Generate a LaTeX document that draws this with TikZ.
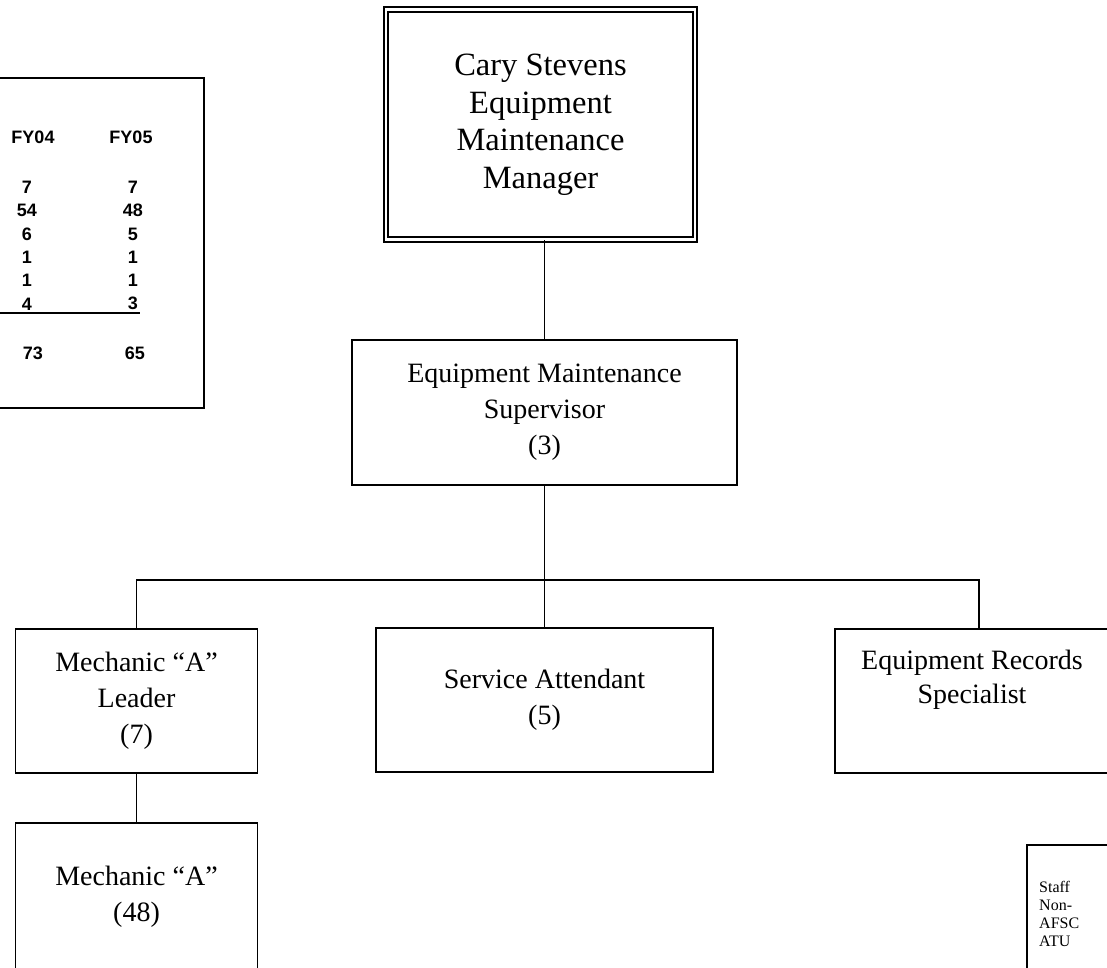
\documentclass[tikz,border=0pt]{standalone}
\usepackage{fontspec}
\setmainfont{Liberation Serif}
\setsansfont{Liberation Sans}

\tikzset{
  post/.style={draw,line width=1.8pt,inner sep=0pt,align=center,font=\fontsize{28}{36}\selectfont},
  link/.style={line width=1.8pt},
  tally/.style={inner sep=0pt,font=\sffamily\bfseries\fontsize{18}{20}\selectfont},
}

\begin{document}
\begin{tikzpicture}[x=1pt,y=-1pt]
\path[use as bounding box] (0,0) rectangle (1107,967);
\clip (0,0) rectangle (1107,967);
% staffing table, cut at the left edge
\node[draw,line width=1.8pt,minimum width=214pt,minimum height=330pt,inner sep=0pt] (counts) at (97,243) {};
\node[tally] (fy04) at (33,137) {FY04};
\node[tally] (fy05) at (131,137) {FY05};
\foreach \a/\b [count=\i] in {7/7,54/48,6/5,1/1,1/1,4/3} {
  \node[tally] (old\i) at (27,164+23.3*\i) {\a};
  \node[tally] (new\i) at (133,164+23.3*\i) {\b};
}
\draw[line width=1.2pt] (-10,313) -- (140,313);
\node[tally] (sum04) at (33,353) {73};
\node[tally] (sum05) at (135,353) {65};
% boxes
\node[post,double,double distance=2.5pt,minimum width=309pt,minimum height=230pt,font=\fontsize{32.5}{37.5}\selectfont] (mgr) at (540.5,124.5) {Cary Stevens\\Equipment\\Maintenance\\Manager};
\node[post,minimum width=385pt,minimum height=145pt] (sup) at (544.5,412.5) {Equipment Maintenance\\Supervisor\\(3)};
\node[post,minimum width=242pt,minimum height=144pt] (lead) at (136.5,701) {Mechanic “A”\\Leader\\(7)};
\node[post,minimum width=337pt,minimum height=144pt] (serv) at (544.5,700) {Service Attendant\\(5)};
\node[post,minimum width=288pt,minimum height=144pt] (rec) at (979,701) {};
\node[align=center,inner sep=0pt,font=\fontsize{28}{34}\selectfont] (rectext) at (972,680) {Equipment Records\\Specialist};
\node[post,minimum width=242pt,minimum height=148pt] (mech) at (136.5,897) {Mechanic “A”\\(48)};
% note box, cut at the lower right corner
\draw[link] (1027,845) rectangle (1140,1000);
\node[anchor=north west,align=left,inner sep=0pt,font=\fontsize{16}{18}\selectfont] (staff) at (1039,881) {Staff\\Non-\\AFSC\\ATU};
% connectors
\draw[link] (sup.north |- mgr.south) -- (sup.north);
\draw[link] (sup.south) -- (serv.north);
\draw[link] (lead.north) -- ++(0,-48) -| (rec.north);
\draw[link] (lead.south) -- (mech.north);
\end{tikzpicture}
\end{document}
